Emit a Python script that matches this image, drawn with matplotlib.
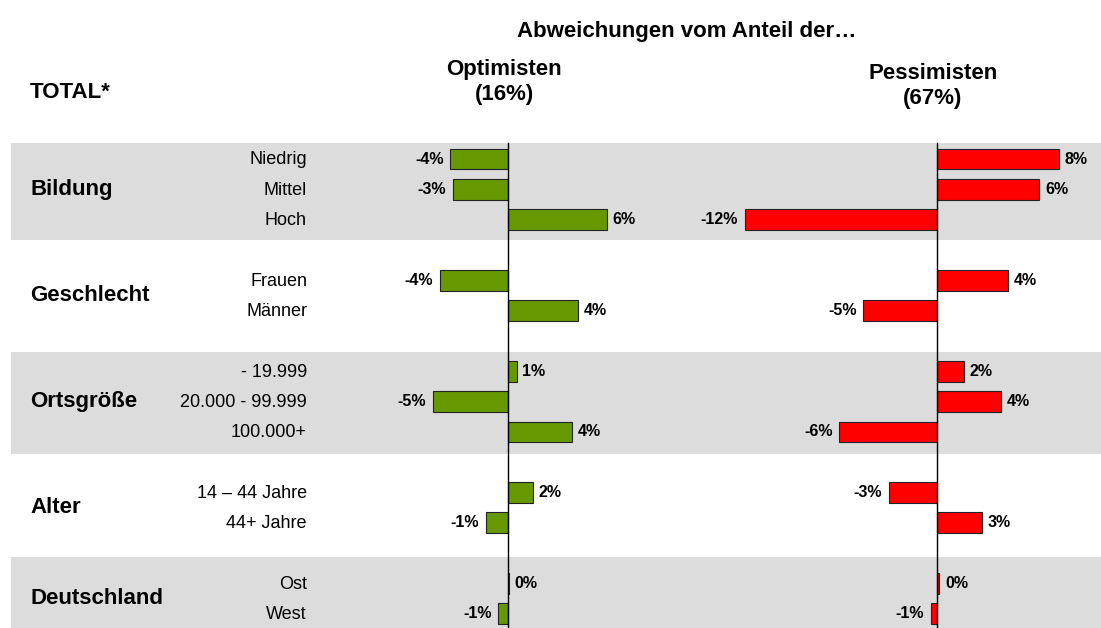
import matplotlib
matplotlib.use('Agg')
import matplotlib.pyplot as plt

plt.rcParams['font.family'] = ['Liberation Sans', 'DejaVu Sans']

# data
groups = ['Bildung', 'Geschlecht', 'Ortsgröße', 'Alter', 'Deutschland']
group_sizes = [3, 2, 3, 2, 2]
rows = ['Niedrig', 'Mittel', 'Hoch',
        'Frauen', 'Männer',
        '- 19.999', '20.000 - 99.999', '100.000+',
        '14 – 44 Jahre', '44+ Jahre',
        'Ost', 'West']
opt_values = [-3.6, -3.45, 6.2, -4.25, 4.4, 0.55, -4.7, 4.0, 1.55, -1.4, 0.05, -0.6]
opt_labels = ['-4%', '-3%', '6%', '-4%', '4%', '1%', '-5%', '4%', '2%', '-1%', '0%', '-1%']
pes_values = [7.6, 6.4, -12.0, 4.45, -4.6, 1.7, 4.0, -6.1, -3.0, 2.8, 0.15, -0.4]
pes_labels = ['8%', '6%', '-12%', '4%', '-5%', '2%', '4%', '-6%', '-3%', '3%', '0%', '-1%']
panel_titles = ['Optimisten\n(16%)', 'Pessimisten\n(67%)']

W, H = 1101, 628
Y0, DY = 159, 30.33       # pixel centre of first row, row pitch
PX_PER_PCT = 16

fig = plt.figure(figsize=(W / 100, H / 100), dpi=100)

# background axes in pixel coords for bands and texts
bg = fig.add_axes([0, 0, 1, 1])
bg.set_xlim(0, W)
bg.set_ylim(H, 0)
bg.axis('off')

# row positions, one empty slot between groups
pos = []
p = 0
for size in group_sizes:
    pos += list(range(p, p + size))
    p += size + 1

def to_px(r):
    return Y0 + r * DY

# grey bands for every other group
bands = [(143, 240), (352, 454), (557, 640)]
for top, bottom in bands:
    bg.add_patch(plt.Rectangle((11, top), W - 11, bottom - top,
                               facecolor='#dcdcdc', edgecolor='none'))

# group + row labels
k = 0
for g, size in zip(groups, group_sizes):
    yc = to_px(sum(pos[k:k + size]) / size)
    bg.text(30, yc, g, fontsize=16, fontweight='bold', ha='left', va='center')
    k += size
for r, name in zip(pos, rows):
    bg.text(307, to_px(r) + 1, name, fontsize=13, ha='right', va='center')

bg.text(30, 92, 'TOTAL*', fontsize=16, fontweight='bold', ha='left', va='center')
bg.text(687, 32, 'Abweichungen vom Anteil der…', fontsize=16,
        fontweight='bold', ha='center', va='center')

ylim = ((H - Y0) / DY, -Y0 / DY)

def panel(x_left, x_right, x_zero, values, labels, color, title, title_y):
    ax = fig.add_axes([x_left / W, 0, (x_right - x_left) / W, 1])
    ax.set_xlim((x_left - x_zero) / PX_PER_PCT, (x_right - x_zero) / PX_PER_PCT)
    ax.set_ylim(*ylim)
    ax.axis('off')
    ax.barh(pos, values, height=0.69, color=color, edgecolor='#222222',
            linewidth=0.8, zorder=2)
    ax.axvline(0, ymin=0, ymax=1 - 143 / H, color='black', linewidth=1, zorder=3)
    for r, v, lab in zip(pos, values, labels):
        if v >= 0:
            ax.annotate(lab, (v, r), xytext=(4, 0), textcoords='offset points',
                        ha='left', va='center', fontsize=11.5, fontweight='bold')
        else:
            ax.annotate(lab, (v, r), xytext=(-5, 0), textcoords='offset points',
                        ha='right', va='center', fontsize=11.5, fontweight='bold')
    bg.text(x_zero - 4, title_y, title, fontsize=16, fontweight='bold',
            ha='center', va='center', linespacing=1.3)

panel(380, 660, 508, opt_values, opt_labels, '#669900', panel_titles[0], 82)
panel(680, 1101, 937, pes_values, pes_labels, '#ff0000', panel_titles[1], 86)

fig.savefig('out.png', dpi=100)
